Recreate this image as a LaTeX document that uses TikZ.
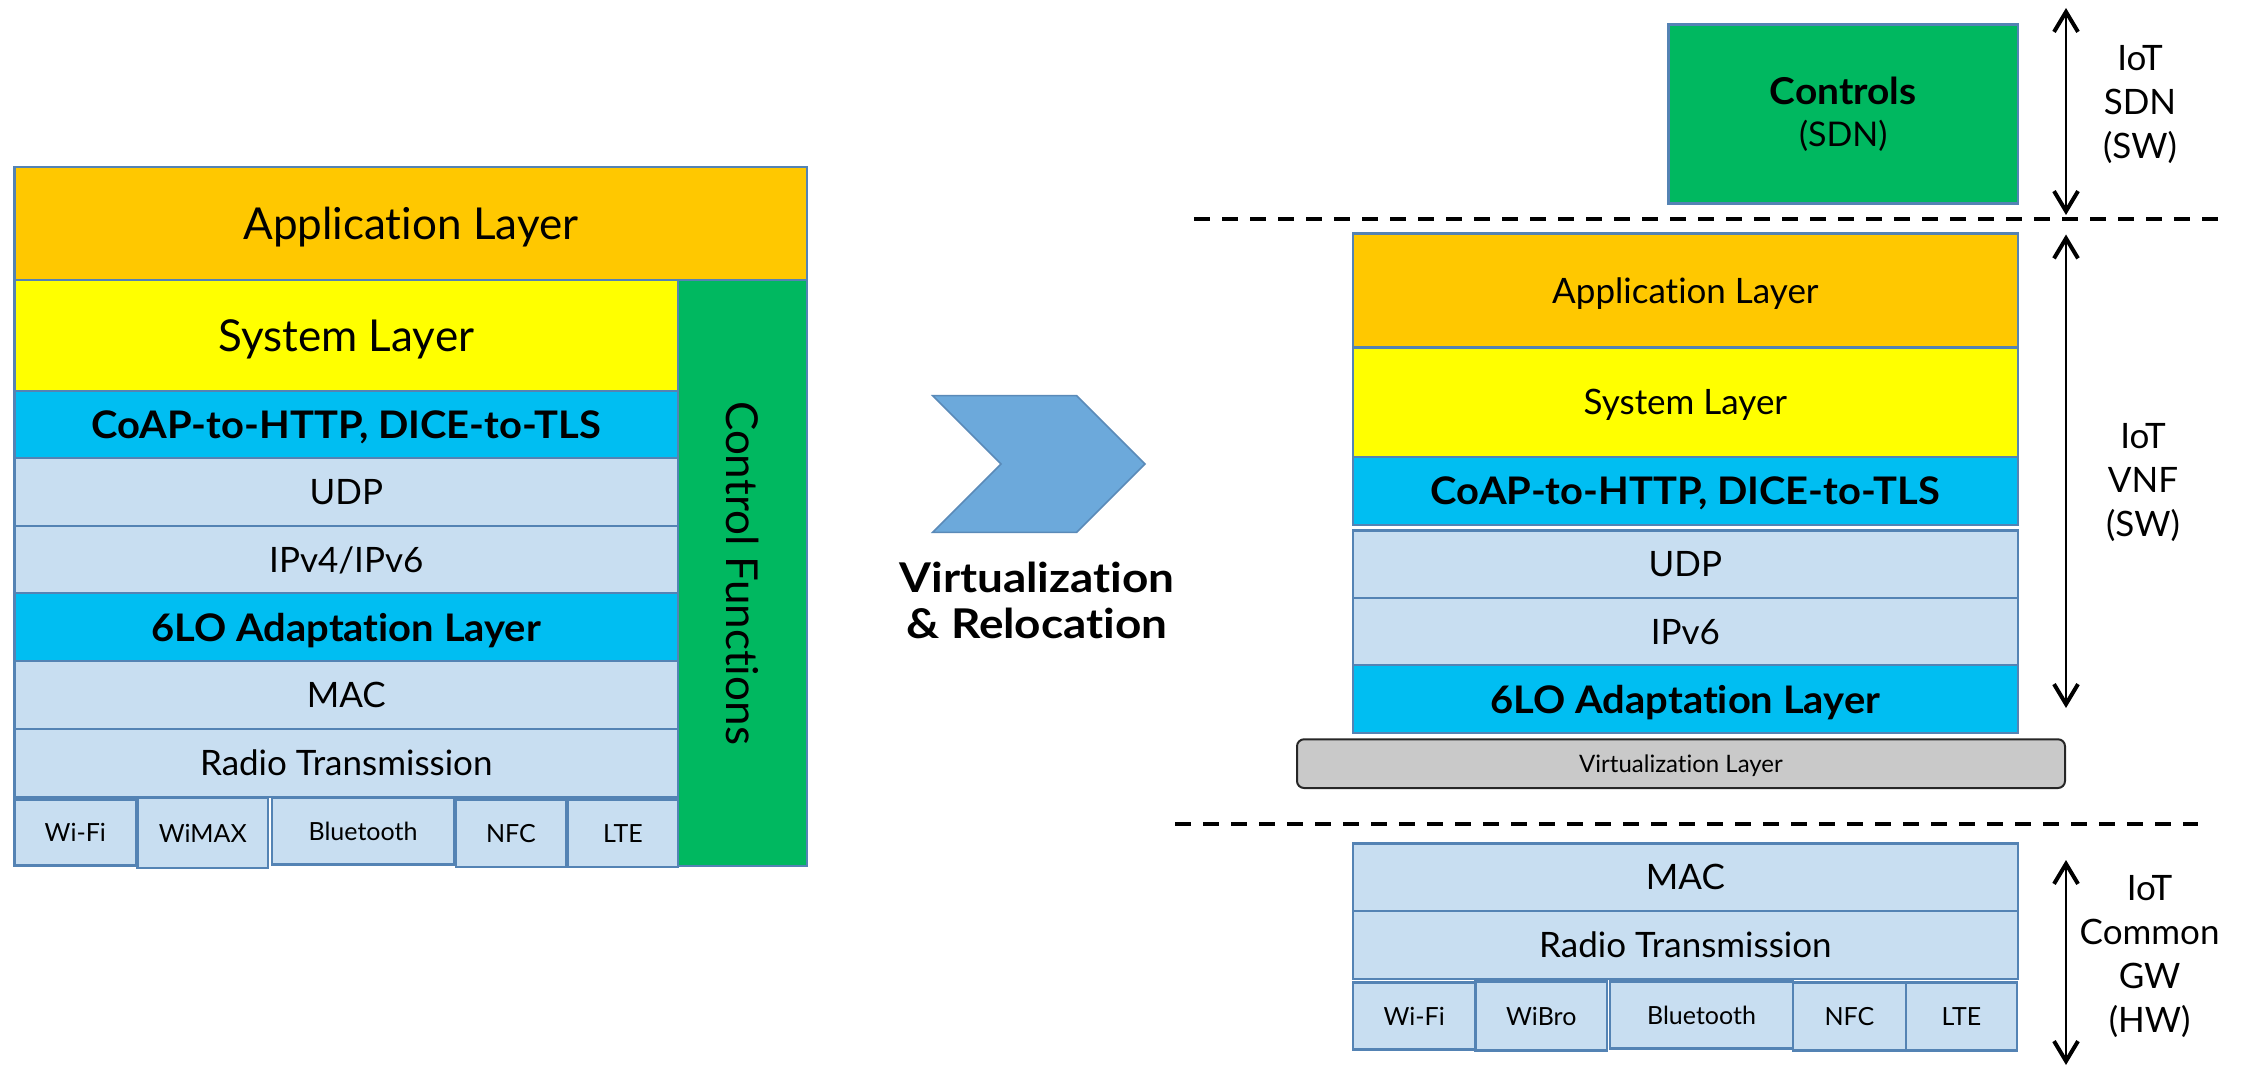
\documentclass[tikz,border=0pt]{standalone}
\usepackage{fontspec}
\setmainfont[Ligatures=NoCommon]{Lato}
\usetikzlibrary{arrows.meta}

\definecolor{appOrange}{RGB}{255,200,0}
\definecolor{sysYellow}{RGB}{255,255,0}
\definecolor{adaptCyan}{RGB}{0,190,242}
\definecolor{paleBlue}{RGB}{200,222,241}
\definecolor{ctrlGreen}{RGB}{0,184,96}
\definecolor{edgeBlue}{RGB}{84,131,180}
\definecolor{virtGray}{RGB}{201,201,201}
\definecolor{chevBlue}{RGB}{108,169,219}
\definecolor{chevEdge}{RGB}{90,138,184}

\newcommand\fs[1]{\fontsize{#1}{#1}\selectfont}
\newcommand\wideBold{\bfseries\addfontfeatures{FakeStretch=1.05}}

% box given by its two corners: style, name, x1, y1, x2, y2, text
\newcommand\stackbox[7]{%
  \node[#1, minimum width={(#5)-(#3)}, minimum height={(#6)-(#4)}]
    (#2) at ({((#3)+(#5))/2},{((#4)+(#6))/2}) {#7};}

\tikzset{
  layer/.style={draw=edgeBlue, line width=2.5pt, inner sep=0pt, align=center, text depth=0pt},
  appbox/.style={layer, fill=appOrange},
  sysbox/.style={layer, fill=sysYellow},
  cyanbox/.style={layer, fill=adaptCyan, font=\fs{38}\wideBold},
  palebox/.style={layer, fill=paleBlue},
  greenbox/.style={layer, fill=ctrlGreen},
  phybox/.style={layer, fill=paleBlue, font=\fs{25}},
  virtbox/.style={draw=black!85, line width=2pt, fill=virtGray, rounded corners=7pt,
                  inner sep=0pt, text depth=0pt, font=\fs{24}},
  sidelabel/.style={align=center, font=\fontsize{35}{44}\selectfont},
  span/.style={line width=1.6pt,
               {Straight Barb[length=20pt,width=24pt,line width=4pt]}-{Straight Barb[length=20pt,width=24pt,line width=4pt]}},
  divider/.style={line width=4pt, dash pattern=on 16pt off 12pt},
}

\begin{document}
\begin{tikzpicture}[x=1pt, y=-1pt]
\useasboundingbox (0,0) rectangle (2247,1067);

% ---- protocol stack of the device
\stackbox{appbox, font=\fs{44}}{lApp}{14.6}{167}{807}{280}{Application Layer}
\stackbox{sysbox, font=\fs{44}}{lSys}{14.6}{280}{678}{391}{System Layer}
\stackbox{cyanbox}{lCoap}{14.6}{391}{678}{458}{CoAP-to-HTTP, DICE-to-TLS}
\stackbox{palebox, font=\fs{35}}{lUdp}{14.6}{458}{678}{526}{UDP}
\stackbox{palebox, font=\fs{35}}{lIp}{14.6}{526}{678}{593}{IPv4/IPv6}
\stackbox{cyanbox}{lSixlo}{14.6}{593}{678}{661}{6LO Adaptation Layer}
\stackbox{palebox, font=\fs{35}}{lMac}{14.6}{661}{678}{729}{MAC}
\stackbox{palebox, font=\fs{35}}{lRadio}{14.6}{729}{678}{797}{Radio Transmission}
\stackbox{phybox}{lWifi}{14.6}{799.5}{136}{865.5}{Wi-Fi}
\stackbox{phybox}{lWimax}{137.5}{798}{268}{868}{WiMAX}
\stackbox{phybox}{lBt}{272}{798}{454}{864.6}{Bluetooth}
\stackbox{phybox}{lNfc}{456}{799.5}{566}{867}{NFC}
\stackbox{phybox}{lLte}{568}{799.5}{678}{867}{LTE}
\node[greenbox, rotate=-90, minimum width=586, minimum height=129, font=\fs{44}]
  (lCtrl) at (742.5,573) {Control Functions};

% ---- transition chevron
\fill[chevBlue, draw=chevEdge, line width=1.5pt, line join=miter]
  (932.7,395.7) -- (1076.7,395.7) -- (1145,464) -- (1076.7,532.3)
  -- (932.7,532.3) -- (1001,464) -- cycle;
\node[align=center, font=\fontsize{41}{46}\selectfont\bfseries\addfontfeatures{FakeStretch=1.12}]
  (relocLbl) at (1037,600) {Virtualization\\\& Relocation};

% ---- SDN controller
\node[greenbox, minimum width=349.5, minimum height=178.6, text depth=,
      font=\fontsize{34}{42}\selectfont] (rCtrl) at (1843.25,114)
  {{\fontsize{37}{42}\selectfont\wideBold Controls}\\(SDN)};

% ---- virtualized network function
\stackbox{appbox, font=\fs{35}}{rApp}{1352.8}{233.4}{2018}{347.4}{Application Layer}
\stackbox{sysbox, font=\fs{35}}{rSys}{1352.8}{347.4}{2018}{457}{System Layer}
\stackbox{cyanbox}{rCoap}{1352.8}{457}{2018}{525}{CoAP-to-HTTP, DICE-to-TLS}
\stackbox{palebox, font=\fs{35}}{rUdp}{1352.8}{530.7}{2018}{598}{UDP}
\stackbox{palebox, font=\fs{35}}{rIp}{1352.8}{598}{2018}{665}{IPv6}
\stackbox{cyanbox}{rSixlo}{1352.8}{665}{2018}{732.8}{6LO Adaptation Layer}
\stackbox{virtbox}{rVirt}{1297}{739.3}{2065}{788}{Virtualization Layer}

% ---- common gateway hardware
\stackbox{palebox, font=\fs{35}}{rMac}{1352.8}{843.3}{2018}{911}{MAC}
\stackbox{palebox, font=\fs{35}}{rRadio}{1352.8}{911}{2018}{979}{Radio Transmission}
\stackbox{phybox}{rWifi}{1352.8}{982.7}{1475.5}{1049.3}{Wi-Fi}
\stackbox{phybox}{rWibro}{1475.5}{981.7}{1607}{1050.7}{WiBro}
\stackbox{phybox}{rBt}{1610}{981.7}{1793}{1048.3}{Bluetooth}
\stackbox{phybox}{rNfc}{1793}{982.7}{1906}{1050.7}{NFC}
\stackbox{phybox}{rLte}{1906}{982.7}{2017}{1050.7}{LTE}

% ---- tier dividers
\coordinate (divAl) at (1194,219);
\coordinate (divAr) at (2218,219);
\coordinate (divBl) at (1175,823.7);
\coordinate (divBr) at (2198,823.7);
\draw[divider] (divAl) -- (divAr);
\draw[divider] (divBl) -- (divBr);

% ---- tier extents and names
\coordinate (sdnTop) at (2066,8);
\coordinate (sdnBot) at (2066,215);
\coordinate (vnfTop) at (2066,234.5);
\coordinate (vnfBot) at (2066,708);
\coordinate (gwTop) at (2066,860);
\coordinate (gwBot) at (2066,1065);
\draw[span] (sdnTop) -- (sdnBot);
\draw[span] (vnfTop) -- (vnfBot);
\draw[span] (gwTop) -- (gwBot);

\node[sidelabel] (sdnLbl) at (2140,105) {IoT\\SDN\\(SW)};
\node[sidelabel] (vnfLbl) at (2143,483) {IoT\\VNF\\(SW)};
\node[sidelabel] (gwLbl) at (2149.6,957) {IoT\\Common\\GW\\(HW)};
\end{tikzpicture}
\end{document}
